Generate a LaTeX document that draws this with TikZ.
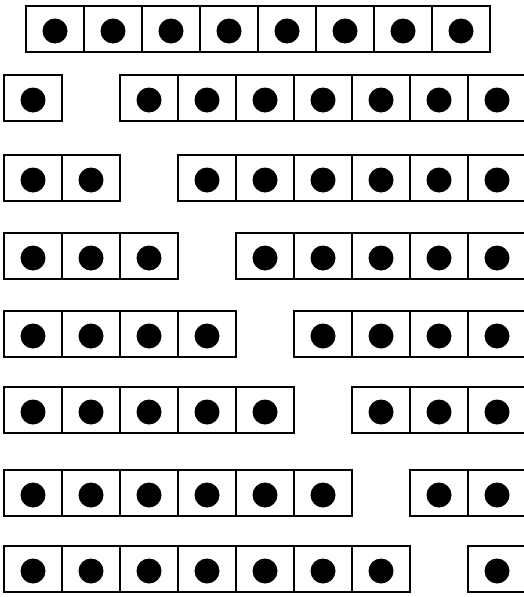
\documentclass[tikz,border=0pt]{standalone}
\usetikzlibrary{positioning}
\tikzset{
  cellbox/.style = {rectangle, draw=black, line width=1.6pt, minimum width=58pt,
                    minimum height=46pt, inner sep=0pt, outer sep=0pt, anchor=north west,
                    path picture={\fill[black] ([yshift=-2pt]path picture bounding box.center) circle (12.5pt);}},
}

\begin{document}
\begin{tikzpicture}[x=1pt,y=1pt]
  \useasboundingbox (0,0) rectangle (524,-597);
  \clip (0,0) rectangle (524,-597);

  % full row of eight
  \foreach \i in {1,...,8}
    \node[cellbox] (top\i) at ({26+58*(\i-1)},-6) {};

  % split rows: k cells on the left, one cell gap, the rest on the right
  \foreach \k/\ytop in {1/75,2/155,3/233,4/311,5/387,6/470,7/546} {
    \foreach \i in {1,...,\k}
      \node[cellbox] (left\k-\i) at ({4+58*(\i-1)},-\ytop) {};
    \pgfmathtruncatemacro\rest{8-\k}
    \foreach \j in {1,...,\rest}
      \node[cellbox] (right\k-\j) at ({4+58*(\k+\j)},-\ytop) {};
  }
\end{tikzpicture}
\end{document}
